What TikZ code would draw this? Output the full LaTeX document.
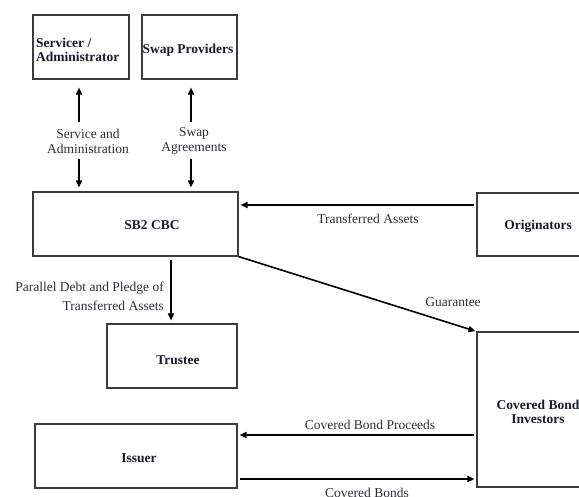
\documentclass[tikz,border=0pt]{standalone}
\usepackage{fontspec}
\setmainfont{Liberation Serif}
\usetikzlibrary{arrows.meta}
\definecolor{boxline}{RGB}{60,60,60}
\definecolor{txt}{RGB}{25,25,40}
\definecolor{lbl}{RGB}{45,45,55}
\begin{document}
\begin{tikzpicture}[x=1pt,y=-1pt,
  box/.style={draw=boxline,line width=1.1pt,rectangle,inner sep=0pt},
  btext/.style={font=\fontsize{13.5}{14.5}\selectfont\bfseries,text=txt,inner sep=0pt},
  lab/.style={font=\fontsize{13.5}{15}\selectfont,text=lbl,inner sep=0pt},
  arr/.style={line width=1.6pt,draw=black,-{Triangle[length=7pt,width=6pt]}},
]
\useasboundingbox (0,0) rectangle (579,497);
\begin{scope}
\clip (0,0) rectangle (579,497);
% boxes
\node[box,minimum width=96pt,minimum height=64pt] (serv) at (81,47) {};
\node[box,minimum width=95pt,minimum height=64pt] (swap) at (189.5,47) {};
\node[box,minimum width=205pt,minimum height=64pt] (sb2) at (135.5,224) {};
\node[box,minimum width=122pt,minimum height=63pt] (orig) at (538,224.5) {};
\node[box,minimum width=130pt,minimum height=64pt] (trustee) at (172,356) {};
\node[box,minimum width=202pt,minimum height=64pt] (issuer) at (136,456) {};
\node[box,minimum width=122pt,minimum height=155pt] (cbi) at (538,409.5) {};
% box texts
\node[btext,align=left,anchor=west] (servt) at (36,50) {Servicer /\\Administrator};
\node[btext] (swapt) at (188,50) {Swap Providers};
\node[btext] (sb2t) at (152,225) {SB2 CBC};
\node[btext] (origt) at (538,226) {Originators};
\node[btext] (trusteet) at (178,360) {Trustee};
\node[btext] (issuert) at (139,458) {Issuer};
\node[btext,align=center] (cbit) at (538,412) {Covered Bond\\Investors};
% labels
\node[lab,align=center] (svcl) at (88,141) {Service and\\Administration};
\node[lab,align=center] (swapl) at (194,141) {Swap\\Agreements};
\node[lab] (tal) at (368,219) {Transferred Assets};
\node[lab] (guarl) at (453,302) {Guarantee};
\node[lab,align=right,anchor=east,font=\fontsize{13.5}{19}\selectfont] (parl) at (164,296) {Parallel Debt and Pledge of\\Transferred Assets};
\node[lab] (cbpl) at (370,425) {Covered Bond Proceeds};
\node[lab] (cbl) at (367,493) {Covered Bonds};
% connector end coordinates
\coordinate (s1) at (79,122);
\coordinate (s2) at (79,159);
\coordinate (w1) at (191,122);
\coordinate (w2) at (191,159);
\coordinate (p1) at (171,260);
% arrows
\draw[arr,shorten >=8pt] (s1) -- (s1 |- serv.south);
\draw[arr,shorten >=4pt] (s2) -- (s2 |- sb2.north);
\draw[arr,shorten >=8pt] (w1) -- (w1 |- swap.south);
\draw[arr,shorten >=4pt] (w2) -- (w2 |- sb2.north);
\draw[arr,shorten <=2pt,shorten >=2pt] (orig.west |- 0,205) -- (sb2.east |- 0,205);
\draw[arr,shorten >=1pt] (sb2.south east) -- (cbi.north west);
\draw[arr,shorten >=3pt] (p1) -- (p1 |- trustee.north);
\draw[arr,shorten <=2pt,shorten >=2pt] (cbi.west |- 0,435) -- (issuer.east |- 0,435);
\draw[arr,shorten <=2pt,shorten >=2pt] (issuer.east |- 0,479) -- (cbi.west |- 0,479);
\end{scope}
\end{tikzpicture}
\end{document}
